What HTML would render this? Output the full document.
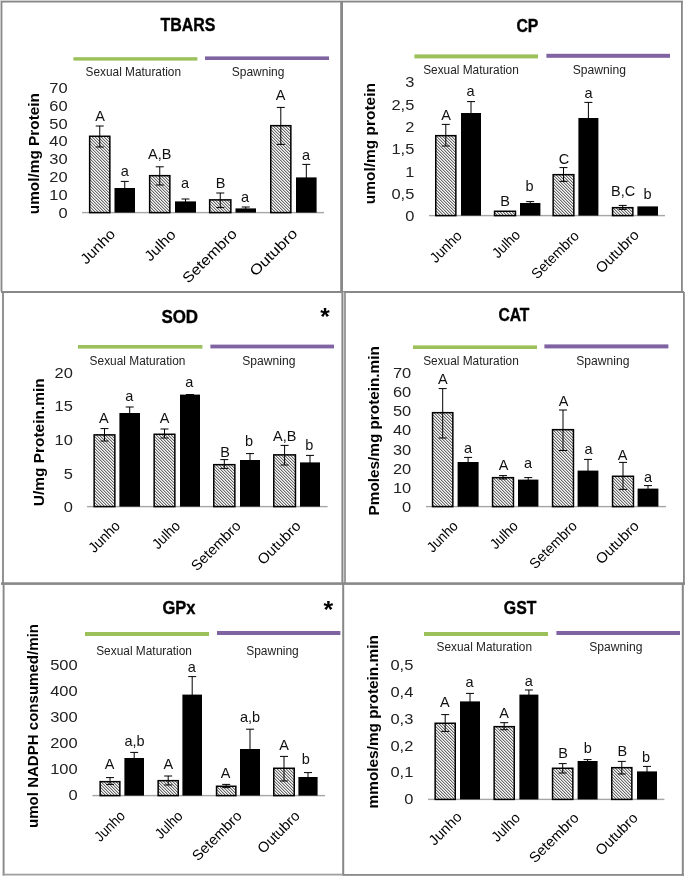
<!DOCTYPE html><html><head><meta charset="utf-8"><style>html,body{margin:0;padding:0;background:#fff;}svg{display:block;will-change:transform;}text{font-family:"Liberation Sans",sans-serif;}</style></head><body>
<svg width="685" height="877" viewBox="0 0 685 877">
<defs><pattern id="h" patternUnits="userSpaceOnUse" x="0" y="0" width="3" height="3"><rect width="3" height="3" fill="#f8f8f8"/><rect x="0" y="0" width="1" height="1" fill="#6a6a6a"/><rect x="1" y="1" width="1" height="1" fill="#6a6a6a"/><rect x="2" y="2" width="1" height="1" fill="#6a6a6a"/><rect x="1" y="0" width="1" height="1" fill="#c4c4c4"/><rect x="2" y="1" width="1" height="1" fill="#c4c4c4"/><rect x="0" y="2" width="1" height="1" fill="#c4c4c4"/></pattern></defs>
<rect x="0" y="0" width="685" height="877" fill="#fff"/>
<text x="160.40" y="31.00" font-size="18" font-weight="bold" textLength="55.00" lengthAdjust="spacingAndGlyphs" fill="#000" stroke="#000" stroke-width="0.35">TBARS</text>
<rect x="73.4" y="57.2" width="124.00" height="3.40" fill="#9cc05a"/>
<rect x="205" y="56.4" width="124.00" height="3.60" fill="#8064a2"/>
<text x="85.60" y="75.60" font-size="12" textLength="95.40" lengthAdjust="spacingAndGlyphs" fill="#222">Sexual Maturation</text>
<text x="231.80" y="75.60" font-size="12" textLength="52.60" lengthAdjust="spacingAndGlyphs" fill="#222">Spawning</text>
<rect x="82" y="211.90" width="242.00" height="1.4" fill="#a6a6a6"/>
<text x="67.60" y="217.85" font-size="15.2" text-anchor="end" textLength="9.15" lengthAdjust="spacingAndGlyphs" fill="#222">0</text>
<text x="67.60" y="199.98" font-size="15.2" text-anchor="end" textLength="18.30" lengthAdjust="spacingAndGlyphs" fill="#222">10</text>
<text x="67.60" y="182.11" font-size="15.2" text-anchor="end" textLength="18.30" lengthAdjust="spacingAndGlyphs" fill="#222">20</text>
<text x="67.60" y="164.24" font-size="15.2" text-anchor="end" textLength="18.30" lengthAdjust="spacingAndGlyphs" fill="#222">30</text>
<text x="67.60" y="146.37" font-size="15.2" text-anchor="end" textLength="18.30" lengthAdjust="spacingAndGlyphs" fill="#222">40</text>
<text x="67.60" y="128.50" font-size="15.2" text-anchor="end" textLength="18.30" lengthAdjust="spacingAndGlyphs" fill="#222">50</text>
<text x="67.60" y="110.63" font-size="15.2" text-anchor="end" textLength="18.30" lengthAdjust="spacingAndGlyphs" fill="#222">60</text>
<text x="67.60" y="92.76" font-size="15.2" text-anchor="end" textLength="18.30" lengthAdjust="spacingAndGlyphs" fill="#222">70</text>
<text x="0" y="0" font-size="14.4" font-weight="bold" fill="#000" textLength="121.20" lengthAdjust="spacingAndGlyphs" transform="translate(39.00,214.20) rotate(-90)">umol/mg Protein</text>
<rect x="89.65" y="136.27" width="20.20" height="76.33" fill="url(#h)" stroke="#000" stroke-width="1.5"/>
<path d="M99.75,126.00 V147.00 M95.75,126.00 H103.75 M95.75,147.00 H103.75" stroke="#000" stroke-width="1"/>
<text x="100.00" y="121.00" font-size="15.1" text-anchor="middle" textLength="9.67" lengthAdjust="spacingAndGlyphs" fill="#111">A</text>
<rect x="114.50" y="188.00" width="20.50" height="24.60" fill="#000"/>
<path d="M124.75,181.40 V195.00 M120.75,181.40 H128.75 M120.75,195.00 H128.75" stroke="#000" stroke-width="1"/>
<text x="124.80" y="175.60" font-size="14.5" text-anchor="middle" fill="#111">a</text>
<rect x="149.65" y="175.67" width="20.20" height="36.93" fill="url(#h)" stroke="#000" stroke-width="1.5"/>
<path d="M159.75,166.80 V185.00 M155.75,166.80 H163.75 M155.75,185.00 H163.75" stroke="#000" stroke-width="1"/>
<text x="159.80" y="159.00" font-size="15.1" text-anchor="middle" textLength="23.38" lengthAdjust="spacingAndGlyphs" fill="#111">A,B</text>
<rect x="175.00" y="201.40" width="21.00" height="11.20" fill="#000"/>
<path d="M185.50,199.00 V204.00 M181.50,199.00 H189.50 M181.50,204.00 H189.50" stroke="#000" stroke-width="1"/>
<text x="185.00" y="188.40" font-size="14.5" text-anchor="middle" fill="#111">a</text>
<rect x="209.65" y="199.87" width="21.20" height="12.73" fill="url(#h)" stroke="#000" stroke-width="1.5"/>
<path d="M220.25,193.00 V207.60 M216.25,193.00 H224.25 M216.25,207.60 H224.25" stroke="#000" stroke-width="1"/>
<text x="220.60" y="188.00" font-size="15.1" text-anchor="middle" textLength="9.67" lengthAdjust="spacingAndGlyphs" fill="#111">B</text>
<rect x="235.50" y="208.40" width="20.50" height="4.20" fill="#000"/>
<path d="M245.75,207.00 V210.00 M241.75,207.00 H249.75 M241.75,210.00 H249.75" stroke="#000" stroke-width="1"/>
<text x="245.00" y="202.00" font-size="14.5" text-anchor="middle" fill="#111">a</text>
<rect x="270.75" y="125.67" width="20.10" height="86.93" fill="url(#h)" stroke="#000" stroke-width="1.5"/>
<path d="M280.80,107.40 V144.40 M276.80,107.40 H284.80 M276.80,144.40 H284.80" stroke="#000" stroke-width="1"/>
<text x="280.50" y="100.00" font-size="15.1" text-anchor="middle" textLength="9.67" lengthAdjust="spacingAndGlyphs" fill="#111">A</text>
<rect x="296.00" y="177.40" width="20.60" height="35.20" fill="#000"/>
<path d="M306.30,164.40 V190.00 M302.30,164.40 H310.30 M302.30,190.00 H310.30" stroke="#000" stroke-width="1"/>
<text x="306.00" y="160.00" font-size="14.5" text-anchor="middle" fill="#111">a</text>
<text x="0" y="0" font-size="14.5" text-anchor="end" fill="#000" textLength="42.34" lengthAdjust="spacingAndGlyphs" transform="translate(116.10,235.00) rotate(-45)">Junho</text>
<text x="0" y="0" font-size="14.5" text-anchor="end" fill="#000" textLength="37.50" lengthAdjust="spacingAndGlyphs" transform="translate(176.70,235.50) rotate(-45)">Julho</text>
<text x="0" y="0" font-size="14.5" text-anchor="end" fill="#000" textLength="69.95" lengthAdjust="spacingAndGlyphs" transform="translate(237.80,234.60) rotate(-45)">Setembro</text>
<text x="0" y="0" font-size="14.5" text-anchor="end" fill="#000" textLength="60.33" lengthAdjust="spacingAndGlyphs" transform="translate(298.20,234.40) rotate(-45)">Outubro</text>
<text x="516.40" y="31.60" font-size="18" font-weight="bold" textLength="22.00" lengthAdjust="spacingAndGlyphs" fill="#000" stroke="#000" stroke-width="0.35">CP</text>
<rect x="414.4" y="54.4" width="123.60" height="4.00" fill="#9cc05a"/>
<rect x="546.4" y="53.8" width="123.60" height="4.00" fill="#8064a2"/>
<text x="423.20" y="74.00" font-size="12" textLength="95.60" lengthAdjust="spacingAndGlyphs" fill="#222">Sexual Maturation</text>
<text x="572.80" y="74.00" font-size="12" textLength="53.20" lengthAdjust="spacingAndGlyphs" fill="#222">Spawning</text>
<rect x="429" y="214.90" width="236.00" height="1.4" fill="#a6a6a6"/>
<text x="414.30" y="221.30" font-size="15.2" text-anchor="end" textLength="9.15" lengthAdjust="spacingAndGlyphs" fill="#222">0</text>
<text x="414.30" y="198.99" font-size="15.2" text-anchor="end" textLength="22.89" lengthAdjust="spacingAndGlyphs" fill="#222">0,5</text>
<text x="414.30" y="176.67" font-size="15.2" text-anchor="end" textLength="9.15" lengthAdjust="spacingAndGlyphs" fill="#222">1</text>
<text x="414.30" y="154.36" font-size="15.2" text-anchor="end" textLength="22.89" lengthAdjust="spacingAndGlyphs" fill="#222">1,5</text>
<text x="414.30" y="132.04" font-size="15.2" text-anchor="end" textLength="9.15" lengthAdjust="spacingAndGlyphs" fill="#222">2</text>
<text x="414.30" y="109.72" font-size="15.2" text-anchor="end" textLength="22.89" lengthAdjust="spacingAndGlyphs" fill="#222">2,5</text>
<text x="414.30" y="87.41" font-size="15.2" text-anchor="end" textLength="9.15" lengthAdjust="spacingAndGlyphs" fill="#222">3</text>
<text x="0" y="0" font-size="14.4" font-weight="bold" fill="#000" textLength="121.10" lengthAdjust="spacingAndGlyphs" transform="translate(375.10,204.20) rotate(-90)">umol/mg protein</text>
<rect x="435.75" y="135.67" width="20.10" height="79.93" fill="url(#h)" stroke="#000" stroke-width="1.5"/>
<path d="M445.80,124.40 V146.00 M441.80,124.40 H449.80 M441.80,146.00 H449.80" stroke="#000" stroke-width="1"/>
<text x="446.00" y="120.00" font-size="15.1" text-anchor="middle" textLength="9.67" lengthAdjust="spacingAndGlyphs" fill="#111">A</text>
<rect x="461.00" y="113.00" width="20.00" height="102.60" fill="#000"/>
<path d="M471.00,101.60 V124.00 M467.00,101.60 H475.00 M467.00,124.00 H475.00" stroke="#000" stroke-width="1"/>
<text x="470.50" y="96.00" font-size="14.5" text-anchor="middle" fill="#111">a</text>
<rect x="494.55" y="211.27" width="20.90" height="4.33" fill="url(#h)" stroke="#000" stroke-width="1.5"/>
<text x="505.00" y="206.40" font-size="15.1" text-anchor="middle" textLength="9.67" lengthAdjust="spacingAndGlyphs" fill="#111">B</text>
<rect x="520.00" y="203.00" width="20.40" height="12.60" fill="#000"/>
<path d="M530.20,201.60 V205.00 M526.20,201.60 H534.20 M526.20,205.00 H534.20" stroke="#000" stroke-width="1"/>
<text x="529.50" y="191.00" font-size="14.5" text-anchor="middle" fill="#111">b</text>
<rect x="553.15" y="174.67" width="20.70" height="40.93" fill="url(#h)" stroke="#000" stroke-width="1.5"/>
<path d="M563.50,167.60 V181.40 M559.50,167.60 H567.50 M559.50,181.40 H567.50" stroke="#000" stroke-width="1"/>
<text x="564.00" y="163.60" font-size="15.1" text-anchor="middle" textLength="10.48" lengthAdjust="spacingAndGlyphs" fill="#111">C</text>
<rect x="578.40" y="118.00" width="20.00" height="97.60" fill="#000"/>
<path d="M588.40,102.40 V134.00 M584.40,102.40 H592.40 M584.40,134.00 H592.40" stroke="#000" stroke-width="1"/>
<text x="588.50" y="98.00" font-size="14.5" text-anchor="middle" fill="#111">a</text>
<rect x="612.55" y="207.67" width="20.30" height="7.93" fill="url(#h)" stroke="#000" stroke-width="1.5"/>
<path d="M622.70,205.40 V209.40 M618.70,205.40 H626.70 M618.70,209.40 H626.70" stroke="#000" stroke-width="1"/>
<text x="623.20" y="196.00" font-size="15.1" text-anchor="middle" textLength="24.17" lengthAdjust="spacingAndGlyphs" fill="#111">B,C</text>
<rect x="637.40" y="206.40" width="20.60" height="9.20" fill="#000"/>
<text x="647.60" y="199.00" font-size="14.5" text-anchor="middle" fill="#111">b</text>
<text x="0" y="0" font-size="14.5" text-anchor="end" fill="#000" textLength="38.38" lengthAdjust="spacingAndGlyphs" transform="translate(462.80,236.60) rotate(-45)">Junho</text>
<text x="0" y="0" font-size="14.5" text-anchor="end" fill="#000" textLength="32.75" lengthAdjust="spacingAndGlyphs" transform="translate(521.08,235.80) rotate(-45)">Julho</text>
<text x="0" y="0" font-size="14.5" text-anchor="end" fill="#000" textLength="60.61" lengthAdjust="spacingAndGlyphs" transform="translate(580.00,236.80) rotate(-45)">Setembro</text>
<text x="0" y="0" font-size="14.5" text-anchor="end" fill="#000" textLength="54.10" lengthAdjust="spacingAndGlyphs" transform="translate(639.80,235.80) rotate(-45)">Outubro</text>
<text x="161.40" y="322.60" font-size="18" font-weight="bold" textLength="36.60" lengthAdjust="spacingAndGlyphs" fill="#000" stroke="#000" stroke-width="0.35">SOD</text>
<text x="320.30" y="325.20" font-size="23" font-weight="bold" textLength="9.50" lengthAdjust="spacingAndGlyphs" fill="#000">*</text>
<rect x="78" y="345" width="124.40" height="3.60" fill="#9cc05a"/>
<rect x="210.4" y="344.6" width="123.60" height="3.80" fill="#8064a2"/>
<text x="89.60" y="364.60" font-size="12" textLength="95.80" lengthAdjust="spacingAndGlyphs" fill="#222">Sexual Maturation</text>
<text x="242.20" y="365.00" font-size="12" textLength="53.20" lengthAdjust="spacingAndGlyphs" fill="#222">Spawning</text>
<rect x="87" y="505.90" width="240.60" height="1.4" fill="#a6a6a6"/>
<text x="72.80" y="512.20" font-size="15.2" text-anchor="end" textLength="9.15" lengthAdjust="spacingAndGlyphs" fill="#222">0</text>
<text x="72.80" y="478.62" font-size="15.2" text-anchor="end" textLength="9.15" lengthAdjust="spacingAndGlyphs" fill="#222">5</text>
<text x="72.80" y="445.05" font-size="15.2" text-anchor="end" textLength="18.30" lengthAdjust="spacingAndGlyphs" fill="#222">10</text>
<text x="72.80" y="411.47" font-size="15.2" text-anchor="end" textLength="18.30" lengthAdjust="spacingAndGlyphs" fill="#222">15</text>
<text x="72.80" y="377.90" font-size="15.2" text-anchor="end" textLength="18.30" lengthAdjust="spacingAndGlyphs" fill="#222">20</text>
<text x="0" y="0" font-size="14.2" font-weight="bold" fill="#000" textLength="127.80" lengthAdjust="spacingAndGlyphs" transform="translate(43.90,506.20) rotate(-90)">U/mg Protein.min</text>
<rect x="94.15" y="434.87" width="20.70" height="71.73" fill="url(#h)" stroke="#000" stroke-width="1.5"/>
<path d="M104.50,428.60 V441.00 M100.50,428.60 H108.50 M100.50,441.00 H108.50" stroke="#000" stroke-width="1"/>
<text x="103.80" y="423.40" font-size="15.1" text-anchor="middle" textLength="9.67" lengthAdjust="spacingAndGlyphs" fill="#111">A</text>
<rect x="119.40" y="413.00" width="20.60" height="93.60" fill="#000"/>
<path d="M129.70,407.00 V419.00 M125.70,407.00 H133.70 M125.70,419.00 H133.70" stroke="#000" stroke-width="1"/>
<text x="129.20" y="401.40" font-size="14.5" text-anchor="middle" fill="#111">a</text>
<rect x="154.15" y="434.27" width="20.70" height="72.33" fill="url(#h)" stroke="#000" stroke-width="1.5"/>
<path d="M164.50,429.00 V438.00 M160.50,429.00 H168.50 M160.50,438.00 H168.50" stroke="#000" stroke-width="1"/>
<text x="164.50" y="422.60" font-size="15.1" text-anchor="middle" textLength="9.67" lengthAdjust="spacingAndGlyphs" fill="#111">A</text>
<rect x="180.00" y="394.60" width="20.00" height="112.00" fill="#000"/>
<path d="M190.00,394.60 V394.60 M186.00,394.60 H194.00 M186.00,394.60 H194.00" stroke="#000" stroke-width="1"/>
<text x="189.30" y="387.40" font-size="14.5" text-anchor="middle" fill="#111">a</text>
<rect x="213.75" y="464.67" width="21.10" height="41.93" fill="url(#h)" stroke="#000" stroke-width="1.5"/>
<path d="M224.30,459.60 V468.40 M220.30,459.60 H228.30 M220.30,468.40 H228.30" stroke="#000" stroke-width="1"/>
<text x="225.00" y="457.00" font-size="15.1" text-anchor="middle" textLength="9.67" lengthAdjust="spacingAndGlyphs" fill="#111">B</text>
<rect x="240.00" y="460.00" width="20.00" height="46.60" fill="#000"/>
<path d="M250.00,453.60 V466.00 M246.00,453.60 H254.00 M246.00,466.00 H254.00" stroke="#000" stroke-width="1"/>
<text x="249.00" y="446.00" font-size="14.5" text-anchor="middle" fill="#111">b</text>
<rect x="273.75" y="454.87" width="21.70" height="51.73" fill="url(#h)" stroke="#000" stroke-width="1.5"/>
<path d="M284.60,445.40 V465.00 M280.60,445.40 H288.60 M280.60,465.00 H288.60" stroke="#000" stroke-width="1"/>
<text x="284.80" y="440.60" font-size="15.1" text-anchor="middle" textLength="23.38" lengthAdjust="spacingAndGlyphs" fill="#111">A,B</text>
<rect x="300.00" y="462.40" width="20.00" height="44.20" fill="#000"/>
<path d="M310.00,455.40 V469.00 M306.00,455.40 H314.00 M306.00,469.00 H314.00" stroke="#000" stroke-width="1"/>
<text x="309.30" y="450.00" font-size="14.5" text-anchor="middle" fill="#111">b</text>
<text x="0" y="0" font-size="14.5" text-anchor="end" fill="#000" textLength="37.82" lengthAdjust="spacingAndGlyphs" transform="translate(121.00,526.80) rotate(-45)">Junho</text>
<text x="0" y="0" font-size="14.5" text-anchor="end" fill="#000" textLength="32.75" lengthAdjust="spacingAndGlyphs" transform="translate(181.08,526.80) rotate(-45)">Julho</text>
<text x="0" y="0" font-size="14.5" text-anchor="end" fill="#000" textLength="63.44" lengthAdjust="spacingAndGlyphs" transform="translate(241.80,526.80) rotate(-45)">Setembro</text>
<text x="0" y="0" font-size="14.5" text-anchor="end" fill="#000" textLength="54.67" lengthAdjust="spacingAndGlyphs" transform="translate(301.80,526.80) rotate(-45)">Outubro</text>
<text x="498.40" y="321.40" font-size="18" font-weight="bold" textLength="31.00" lengthAdjust="spacingAndGlyphs" fill="#000" stroke="#000" stroke-width="0.35">CAT</text>
<rect x="413" y="345.4" width="124.00" height="3.60" fill="#9cc05a"/>
<rect x="544.4" y="344.4" width="124.00" height="4.00" fill="#8064a2"/>
<text x="423.20" y="365.40" font-size="12" textLength="95.60" lengthAdjust="spacingAndGlyphs" fill="#222">Sexual Maturation</text>
<text x="576.20" y="365.40" font-size="12" textLength="53.20" lengthAdjust="spacingAndGlyphs" fill="#222">Spawning</text>
<rect x="426" y="505.90" width="240.00" height="1.4" fill="#a6a6a6"/>
<text x="411.20" y="512.20" font-size="15.2" text-anchor="end" textLength="9.15" lengthAdjust="spacingAndGlyphs" fill="#222">0</text>
<text x="411.20" y="493.01" font-size="15.2" text-anchor="end" textLength="18.30" lengthAdjust="spacingAndGlyphs" fill="#222">10</text>
<text x="411.20" y="473.82" font-size="15.2" text-anchor="end" textLength="18.30" lengthAdjust="spacingAndGlyphs" fill="#222">20</text>
<text x="411.20" y="454.63" font-size="15.2" text-anchor="end" textLength="18.30" lengthAdjust="spacingAndGlyphs" fill="#222">30</text>
<text x="411.20" y="435.44" font-size="15.2" text-anchor="end" textLength="18.30" lengthAdjust="spacingAndGlyphs" fill="#222">40</text>
<text x="411.20" y="416.25" font-size="15.2" text-anchor="end" textLength="18.30" lengthAdjust="spacingAndGlyphs" fill="#222">50</text>
<text x="411.20" y="397.06" font-size="15.2" text-anchor="end" textLength="18.30" lengthAdjust="spacingAndGlyphs" fill="#222">60</text>
<text x="411.20" y="377.87" font-size="15.2" text-anchor="end" textLength="18.30" lengthAdjust="spacingAndGlyphs" fill="#222">70</text>
<text x="0" y="0" font-size="15.2" font-weight="bold" fill="#000" textLength="169.20" lengthAdjust="spacingAndGlyphs" transform="translate(379.30,515.40) rotate(-90)">Pmoles/mg protein.min</text>
<rect x="432.55" y="412.67" width="20.30" height="93.93" fill="url(#h)" stroke="#000" stroke-width="1.5"/>
<path d="M442.70,388.60 V438.00 M438.70,388.60 H446.70 M438.70,438.00 H446.70" stroke="#000" stroke-width="1"/>
<text x="442.80" y="384.00" font-size="15.1" text-anchor="middle" textLength="9.67" lengthAdjust="spacingAndGlyphs" fill="#111">A</text>
<rect x="457.60" y="462.00" width="21.00" height="44.60" fill="#000"/>
<path d="M468.10,457.40 V466.00 M464.10,457.40 H472.10 M464.10,466.00 H472.10" stroke="#000" stroke-width="1"/>
<text x="468.00" y="453.00" font-size="14.5" text-anchor="middle" fill="#111">a</text>
<rect x="492.55" y="477.67" width="20.90" height="28.93" fill="url(#h)" stroke="#000" stroke-width="1.5"/>
<path d="M503.00,475.60 V479.00 M499.00,475.60 H507.00 M499.00,479.00 H507.00" stroke="#000" stroke-width="1"/>
<text x="503.50" y="470.00" font-size="15.1" text-anchor="middle" textLength="9.67" lengthAdjust="spacingAndGlyphs" fill="#111">A</text>
<rect x="518.00" y="479.60" width="20.40" height="27.00" fill="#000"/>
<path d="M528.20,477.60 V481.00 M524.20,477.60 H532.20 M524.20,481.00 H532.20" stroke="#000" stroke-width="1"/>
<text x="528.00" y="468.40" font-size="14.5" text-anchor="middle" fill="#111">a</text>
<rect x="552.55" y="429.67" width="20.90" height="76.93" fill="url(#h)" stroke="#000" stroke-width="1.5"/>
<path d="M563.00,410.00 V450.50 M559.00,410.00 H567.00 M559.00,450.50 H567.00" stroke="#000" stroke-width="1"/>
<text x="563.50" y="406.00" font-size="15.1" text-anchor="middle" textLength="9.67" lengthAdjust="spacingAndGlyphs" fill="#111">A</text>
<rect x="577.60" y="470.60" width="20.80" height="36.00" fill="#000"/>
<path d="M588.00,459.40 V482.00 M584.00,459.40 H592.00 M584.00,482.00 H592.00" stroke="#000" stroke-width="1"/>
<text x="588.50" y="453.60" font-size="14.5" text-anchor="middle" fill="#111">a</text>
<rect x="612.55" y="476.27" width="20.90" height="30.33" fill="url(#h)" stroke="#000" stroke-width="1.5"/>
<path d="M623.00,462.40 V489.40 M619.00,462.40 H627.00 M619.00,489.40 H627.00" stroke="#000" stroke-width="1"/>
<text x="622.50" y="460.00" font-size="15.1" text-anchor="middle" textLength="9.67" lengthAdjust="spacingAndGlyphs" fill="#111">A</text>
<rect x="637.60" y="488.60" width="20.80" height="18.00" fill="#000"/>
<path d="M648.00,485.60 V491.00 M644.00,485.60 H652.00 M644.00,491.00 H652.00" stroke="#000" stroke-width="1"/>
<text x="648.00" y="482.40" font-size="14.5" text-anchor="middle" fill="#111">a</text>
<text x="0" y="0" font-size="14.5" text-anchor="end" fill="#000" textLength="37.25" lengthAdjust="spacingAndGlyphs" transform="translate(459.00,526.80) rotate(-45)">Junho</text>
<text x="0" y="0" font-size="14.5" text-anchor="end" fill="#000" textLength="32.97" lengthAdjust="spacingAndGlyphs" transform="translate(519.00,526.80) rotate(-45)">Julho</text>
<text x="0" y="0" font-size="14.5" text-anchor="end" fill="#000" textLength="60.61" lengthAdjust="spacingAndGlyphs" transform="translate(578.00,526.80) rotate(-45)">Setembro</text>
<text x="0" y="0" font-size="14.5" text-anchor="end" fill="#000" textLength="54.10" lengthAdjust="spacingAndGlyphs" transform="translate(639.80,526.80) rotate(-45)">Outubro</text>
<text x="162.40" y="614.00" font-size="18" font-weight="bold" textLength="33.00" lengthAdjust="spacingAndGlyphs" fill="#000" stroke="#000" stroke-width="0.35">GPx</text>
<text x="323.50" y="617.60" font-size="23" font-weight="bold" textLength="9.70" lengthAdjust="spacingAndGlyphs" fill="#000">*</text>
<rect x="85" y="632" width="124.00" height="4.00" fill="#9cc05a"/>
<rect x="217" y="631" width="123.40" height="4.00" fill="#8064a2"/>
<text x="96.20" y="654.60" font-size="12" textLength="95.80" lengthAdjust="spacingAndGlyphs" fill="#222">Sexual Maturation</text>
<text x="246.20" y="655.00" font-size="12" textLength="52.60" lengthAdjust="spacingAndGlyphs" fill="#222">Spawning</text>
<rect x="92.4" y="794.90" width="232.60" height="1.4" fill="#a6a6a6"/>
<text x="77.60" y="800.40" font-size="15.2" text-anchor="end" textLength="9.15" lengthAdjust="spacingAndGlyphs" fill="#222">0</text>
<text x="77.60" y="774.32" font-size="15.2" text-anchor="end" textLength="27.45" lengthAdjust="spacingAndGlyphs" fill="#222">100</text>
<text x="77.60" y="748.24" font-size="15.2" text-anchor="end" textLength="27.45" lengthAdjust="spacingAndGlyphs" fill="#222">200</text>
<text x="77.60" y="722.16" font-size="15.2" text-anchor="end" textLength="27.45" lengthAdjust="spacingAndGlyphs" fill="#222">300</text>
<text x="77.60" y="696.08" font-size="15.2" text-anchor="end" textLength="27.45" lengthAdjust="spacingAndGlyphs" fill="#222">400</text>
<text x="77.60" y="670.00" font-size="15.2" text-anchor="end" textLength="27.45" lengthAdjust="spacingAndGlyphs" fill="#222">500</text>
<text x="0" y="0" font-size="13.9" font-weight="bold" fill="#000" textLength="204.00" lengthAdjust="spacingAndGlyphs" transform="translate(37.90,828.00) rotate(-90)">umol NADPH consumed/min</text>
<rect x="100.15" y="781.67" width="19.70" height="13.93" fill="url(#h)" stroke="#000" stroke-width="1.5"/>
<path d="M110.00,777.60 V784.40 M106.00,777.60 H114.00 M106.00,784.40 H114.00" stroke="#000" stroke-width="1"/>
<text x="109.70" y="769.00" font-size="15.1" text-anchor="middle" textLength="9.67" lengthAdjust="spacingAndGlyphs" fill="#111">A</text>
<rect x="124.40" y="758.00" width="19.60" height="37.60" fill="#000"/>
<path d="M134.20,752.40 V764.00 M130.20,752.40 H138.20 M130.20,764.00 H138.20" stroke="#000" stroke-width="1"/>
<text x="134.50" y="745.50" font-size="14.5" text-anchor="middle" fill="#111">a,b</text>
<rect x="158.15" y="780.67" width="20.10" height="14.93" fill="url(#h)" stroke="#000" stroke-width="1.5"/>
<path d="M168.20,776.00 V785.00 M164.20,776.00 H172.20 M164.20,785.00 H172.20" stroke="#000" stroke-width="1"/>
<text x="168.30" y="769.00" font-size="15.1" text-anchor="middle" textLength="9.67" lengthAdjust="spacingAndGlyphs" fill="#111">A</text>
<rect x="182.40" y="694.60" width="19.60" height="101.00" fill="#000"/>
<path d="M192.20,676.60 V712.00 M188.20,676.60 H196.20 M188.20,712.00 H196.20" stroke="#000" stroke-width="1"/>
<text x="191.80" y="672.00" font-size="14.5" text-anchor="middle" fill="#111">a</text>
<rect x="216.55" y="786.27" width="19.30" height="9.33" fill="url(#h)" stroke="#000" stroke-width="1.5"/>
<path d="M226.20,784.40 V787.60 M222.20,784.40 H230.20 M222.20,787.60 H230.20" stroke="#000" stroke-width="1"/>
<text x="225.70" y="778.40" font-size="15.1" text-anchor="middle" textLength="9.67" lengthAdjust="spacingAndGlyphs" fill="#111">A</text>
<rect x="240.00" y="749.00" width="20.00" height="46.60" fill="#000"/>
<path d="M250.00,729.20 V769.00 M246.00,729.20 H254.00 M246.00,769.00 H254.00" stroke="#000" stroke-width="1"/>
<text x="250.00" y="722.00" font-size="14.5" text-anchor="middle" fill="#111">a,b</text>
<rect x="273.75" y="768.27" width="20.50" height="27.33" fill="url(#h)" stroke="#000" stroke-width="1.5"/>
<path d="M284.00,756.40 V781.00 M280.00,756.40 H288.00 M280.00,781.00 H288.00" stroke="#000" stroke-width="1"/>
<text x="284.00" y="750.00" font-size="15.1" text-anchor="middle" textLength="9.67" lengthAdjust="spacingAndGlyphs" fill="#111">A</text>
<rect x="298.40" y="777.00" width="19.20" height="18.60" fill="#000"/>
<path d="M308.00,772.60 V781.00 M304.00,772.60 H312.00 M304.00,781.00 H312.00" stroke="#000" stroke-width="1"/>
<text x="305.80" y="764.40" font-size="14.5" text-anchor="middle" fill="#111">b</text>
<text x="0" y="0" font-size="14.5" text-anchor="end" fill="#000" textLength="36.35" lengthAdjust="spacingAndGlyphs" transform="translate(126.00,816.80) rotate(-45)">Junho</text>
<text x="0" y="0" font-size="14.5" text-anchor="end" fill="#000" textLength="32.64" lengthAdjust="spacingAndGlyphs" transform="translate(183.72,816.80) rotate(-45)">Julho</text>
<text x="0" y="0" font-size="14.5" text-anchor="end" fill="#000" textLength="63.44" lengthAdjust="spacingAndGlyphs" transform="translate(242.80,816.80) rotate(-45)">Setembro</text>
<text x="0" y="0" font-size="14.5" text-anchor="end" fill="#000" textLength="52.97" lengthAdjust="spacingAndGlyphs" transform="translate(300.80,816.80) rotate(-45)">Outubro</text>
<text x="503.80" y="614.00" font-size="18" font-weight="bold" textLength="32.60" lengthAdjust="spacingAndGlyphs" fill="#000" stroke="#000" stroke-width="0.35">GST</text>
<rect x="424" y="632" width="124.00" height="4.00" fill="#9cc05a"/>
<rect x="556.4" y="631" width="123.60" height="4.00" fill="#8064a2"/>
<text x="436.60" y="651.00" font-size="12" textLength="95.40" lengthAdjust="spacingAndGlyphs" fill="#222">Sexual Maturation</text>
<text x="589.20" y="651.40" font-size="12" textLength="53.20" lengthAdjust="spacingAndGlyphs" fill="#222">Spawning</text>
<rect x="428" y="798.70" width="236.40" height="1.4" fill="#a6a6a6"/>
<text x="413.30" y="804.20" font-size="15.2" text-anchor="end" textLength="9.15" lengthAdjust="spacingAndGlyphs" fill="#222">0</text>
<text x="413.30" y="777.42" font-size="15.2" text-anchor="end" textLength="22.89" lengthAdjust="spacingAndGlyphs" fill="#222">0,1</text>
<text x="413.30" y="750.64" font-size="15.2" text-anchor="end" textLength="22.89" lengthAdjust="spacingAndGlyphs" fill="#222">0,2</text>
<text x="413.30" y="723.86" font-size="15.2" text-anchor="end" textLength="22.89" lengthAdjust="spacingAndGlyphs" fill="#222">0,3</text>
<text x="413.30" y="697.08" font-size="15.2" text-anchor="end" textLength="22.89" lengthAdjust="spacingAndGlyphs" fill="#222">0,4</text>
<text x="413.30" y="670.30" font-size="15.2" text-anchor="end" textLength="22.89" lengthAdjust="spacingAndGlyphs" fill="#222">0,5</text>
<text x="0" y="0" font-size="15.3" font-weight="bold" fill="#000" textLength="173.20" lengthAdjust="spacingAndGlyphs" transform="translate(377.90,808.40) rotate(-90)">mmoles/mg protein.min</text>
<rect x="435.15" y="723.27" width="20.10" height="76.13" fill="url(#h)" stroke="#000" stroke-width="1.5"/>
<path d="M445.20,714.60 V731.40 M441.20,714.60 H449.20 M441.20,731.40 H449.20" stroke="#000" stroke-width="1"/>
<text x="444.80" y="707.40" font-size="15.1" text-anchor="middle" textLength="9.67" lengthAdjust="spacingAndGlyphs" fill="#111">A</text>
<rect x="460.00" y="701.40" width="20.00" height="98.00" fill="#000"/>
<path d="M470.00,693.40 V709.00 M466.00,693.40 H474.00 M466.00,709.00 H474.00" stroke="#000" stroke-width="1"/>
<text x="469.50" y="687.00" font-size="14.5" text-anchor="middle" fill="#111">a</text>
<rect x="494.15" y="726.67" width="20.10" height="72.73" fill="url(#h)" stroke="#000" stroke-width="1.5"/>
<path d="M504.20,722.70 V729.70 M500.20,722.70 H508.20 M500.20,729.70 H508.20" stroke="#000" stroke-width="1"/>
<text x="504.00" y="718.00" font-size="15.1" text-anchor="middle" textLength="9.67" lengthAdjust="spacingAndGlyphs" fill="#111">A</text>
<rect x="519.40" y="694.60" width="19.00" height="104.80" fill="#000"/>
<path d="M528.90,690.00 V699.00 M524.90,690.00 H532.90 M524.90,699.00 H532.90" stroke="#000" stroke-width="1"/>
<text x="528.80" y="686.00" font-size="14.5" text-anchor="middle" fill="#111">a</text>
<rect x="552.55" y="768.27" width="20.30" height="31.13" fill="url(#h)" stroke="#000" stroke-width="1.5"/>
<path d="M562.70,763.60 V773.00 M558.70,763.60 H566.70 M558.70,773.00 H566.70" stroke="#000" stroke-width="1"/>
<text x="563.00" y="758.40" font-size="15.1" text-anchor="middle" textLength="9.67" lengthAdjust="spacingAndGlyphs" fill="#111">B</text>
<rect x="577.60" y="761.00" width="20.00" height="38.40" fill="#000"/>
<path d="M587.60,759.60 V762.40 M583.60,759.60 H591.60 M583.60,762.40 H591.60" stroke="#000" stroke-width="1"/>
<text x="587.80" y="753.00" font-size="14.5" text-anchor="middle" fill="#111">b</text>
<rect x="611.75" y="767.67" width="20.10" height="31.73" fill="url(#h)" stroke="#000" stroke-width="1.5"/>
<path d="M621.80,761.40 V774.00 M617.80,761.40 H625.80 M617.80,774.00 H625.80" stroke="#000" stroke-width="1"/>
<text x="622.40" y="756.00" font-size="15.1" text-anchor="middle" textLength="9.67" lengthAdjust="spacingAndGlyphs" fill="#111">B</text>
<rect x="637.00" y="771.40" width="20.00" height="28.00" fill="#000"/>
<path d="M647.00,766.40 V776.00 M643.00,766.40 H651.00 M643.00,776.00 H651.00" stroke="#000" stroke-width="1"/>
<text x="646.00" y="762.40" font-size="14.5" text-anchor="middle" fill="#111">b</text>
<text x="0" y="0" font-size="14.5" text-anchor="end" fill="#000" textLength="40.08" lengthAdjust="spacingAndGlyphs" transform="translate(462.80,817.80) rotate(-45)">Junho</text>
<text x="0" y="0" font-size="14.5" text-anchor="end" fill="#000" textLength="33.88" lengthAdjust="spacingAndGlyphs" transform="translate(521.08,818.80) rotate(-45)">Julho</text>
<text x="0" y="0" font-size="14.5" text-anchor="end" fill="#000" textLength="63.44" lengthAdjust="spacingAndGlyphs" transform="translate(579.80,818.80) rotate(-45)">Setembro</text>
<text x="0" y="0" font-size="14.5" text-anchor="end" fill="#000" textLength="52.97" lengthAdjust="spacingAndGlyphs" transform="translate(638.80,818.80) rotate(-45)">Outubro</text>
<rect x="0" y="0" width="683" height="1" fill="#dcdcdc"/>
<rect x="0" y="0" width="1" height="291" fill="#dcdcdc"/>
<rect x="1" y="0.90" width="682" height="1.6" fill="#888888"/>
<rect x="0.80" y="1" width="1.6" height="291" fill="#888888"/>
<rect x="340.20" y="1" width="2.8" height="291" fill="#888888"/>
<rect x="681.00" y="1" width="1.8" height="291" fill="#888888"/>
<rect x="1" y="291.00" width="683" height="2" fill="#888888"/>
<rect x="2.10" y="292" width="1.8" height="292" fill="#888888"/>
<rect x="342.90" y="292" width="1.4" height="292" fill="#c8c8c8"/>
<rect x="341.40" y="292" width="1.6" height="292" fill="#888888"/>
<rect x="344.20" y="292" width="1.6" height="292" fill="#888888"/>
<rect x="683.00" y="292" width="1.8" height="292" fill="#888888"/>
<rect x="1" y="582.30" width="684" height="2.6" fill="#888888"/>
<rect x="2.65" y="583" width="1.9" height="292.5" fill="#888888"/>
<rect x="342.20" y="583" width="2" height="292.5" fill="#888888"/>
<rect x="681.80" y="583" width="2" height="292.5" fill="#888888"/>
<rect x="2.6" y="873.70" width="340.4" height="1.8" fill="#a0a0a0"/>
<rect x="343" y="874.00" width="341" height="1.8" fill="#888888"/>
</svg></body></html>
